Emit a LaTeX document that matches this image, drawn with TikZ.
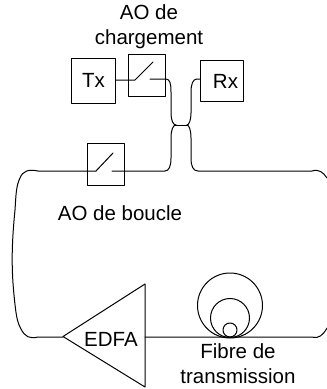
\documentclass[tikz,border=0pt]{standalone}
\usepackage{fontspec}
\setmainfont{Liberation Sans}
\tikzset{
  unitbox/.style={draw,line width=1pt,inner sep=0pt,anchor=north west},
  fibre/.style={line width=1pt},
  caption/.style={font=\fontsize{20.5}{25}\selectfont,align=center,inner sep=0pt}
}
\begin{document}
\begin{tikzpicture}[x=1pt,y=-1pt,line cap=round,line join=round]
  \useasboundingbox (0,0) rectangle (327,389);

  % Transmit, receive and the two switch boxes.
  \node[unitbox,minimum width=44pt,minimum height=45pt] (tx) at (71,58) {};
  \node[unitbox,minimum width=37pt,minimum height=42pt] (aocharge) at (128,54) {};
  \node[unitbox,minimum width=43pt,minimum height=41pt] (rx) at (200,59.5) {};
  \node[unitbox,minimum width=37pt,minimum height=42pt] (aoboucle) at (87,143) {};
  \node[caption] (txlabel) at (93.5,80) {Tx};
  \node[caption] (rxlabel) at (225.5,81) {Rx};

  % Labels.
  \node[caption] (aochargelabel) at (149,27) {AO de\\chargement};
  \node[caption] (aobouclelabel) at (120,213) {AO de boucle};
  \node[caption] (fibrelabel) at (238,364) {Fibre de\\transmission};

  % Switch blades and their contacts.
  \coordinate (cA) at (135,80);
  \coordinate (cB) at (153,62);
  \coordinate (cC) at (150,79);
  \coordinate (cD) at (96,171);
  \coordinate (cE) at (113,153);
  \coordinate (cF) at (112,171);
  \draw[fibre] (tx.east |- cA) -- (cA) -- (cB);
  \draw[fibre] (cD) -- (cE);

  % Coupler waist.
  \coordinate (wL) at (176,125);
  \coordinate (wR) at (187,125);
  \draw[fibre] (wL) -- (wR);

  % Four coupler arms.
  \draw[fibre] (cC) -- (166,79) .. controls (170,79) and (171,84) .. (171,92)
    -- (171,113) .. controls (171,120) and (173,125) .. (wL);
  \draw[fibre] (rx.west |- 0,79) -- (197,79) .. controls (193,79) and (191,84) .. (191,92)
    -- (191,113) .. controls (191,120) and (189,125) .. (wR);
  \draw[fibre] (wL) .. controls (173,125) and (171,130) .. (171,138)
    -- (171,158) .. controls (171,166) and (169,171) .. (165,171) -- (cF);
  \draw[fibre] (wR) .. controls (189,125) and (191,130) .. (191,138)
    -- (191,158) .. controls (191,166) and (193,171) .. (198,171) -- (312,171)
    .. controls (319,169) and (323,172) .. (327,178);

  % Loop closing on the left and on the right.
  \draw[fibre] (cD) -- (38,171) .. controls (28,169) and (23,171) .. (20,178)
    .. controls (16,186) and (16,195) .. (15,210)
    .. controls (12,240) and (11,265) .. (14,295)
    .. controls (16,315) and (17,322) .. (21,329)
    .. controls (25,337) and (30,339) .. (38,337) -- (63,337);
  \draw[fibre] (145,337) -- (312,337) .. controls (319,339) and (323,335) .. (327,328);

  % Amplifier.
  \draw[fibre] (63,336.5) -- (145,284) -- (145,387) -- cycle;
  \node[caption] (edfa) at (111,339) {EDFA};

  % Fibre spool.
  \draw[fibre] (230,305.5) circle (32.5);
  \draw[fibre] (230,318) circle (19.5);
  \draw[fibre] (230,330) circle (7);
\end{tikzpicture}
\end{document}
